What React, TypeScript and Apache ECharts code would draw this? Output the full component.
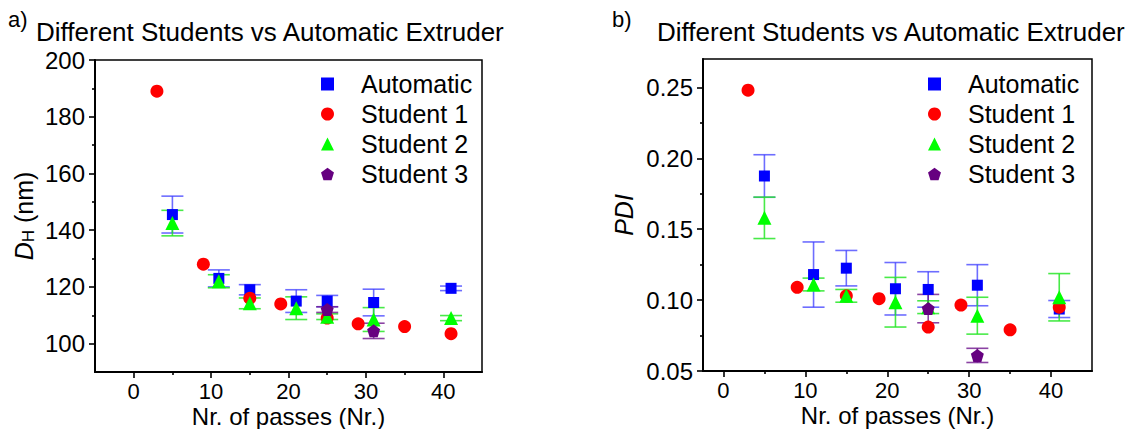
import React, { useEffect, useRef } from "react";
import * as echarts from "echarts";

// ---------- data ----------
const autoX = [5, 11, 15, 21, 25, 31, 41];
const autoDH = [145.5, 123, 119, 115, 115, 114.5, 119.5];
const autoDHErr = [6.5, 3, 1.8, 4, 2, 4.7, 0.8];
const autoPDI = [0.1875, 0.118, 0.1225, 0.108, 0.1075, 0.1105, 0.0937];
const autoPDIErr = [0.015, 0.023, 0.0125, 0.0185, 0.0125, 0.0145, 0.006];

const s1X = [3, 9, 15, 19, 25, 29, 35, 41];
const s1DH = [189, 128, 116, 114, 109, 107, 106, 103.5];
const s1PDI = [0.248, 0.109, 0.103, 0.101, 0.081, 0.0965, 0.079, 0.095];

const s2X = [5, 11, 15, 21, 25, 31, 41];
const s2DH = [142.5, 122, 114.2, 112.5, 109.5, 108.5, 109];
const s2DHErr = [4.5, 2.3, 1.9, 4, 1, 4.2, 0.9];
const s2PDI = [0.158, 0.111, 0.103, 0.0985, 0.095, 0.089, 0.102];
const s2PDIErr = [0.0146, 0.0045, 0.0045, 0.0175, 0.0045, 0.013, 0.0167];

const s3X = [25, 31];
const s3DH = [112, 104.5];
const s3DHErr = [1, 2.7];
const s3PDI = [0.094, 0.061];
const s3PDIErr = [0.01, 0.005];

const xMajor = [0, 10, 20, 30, 40];
const xMinor = [5, 15, 25, 35];
const dhMajor = [100, 120, 140, 160, 180, 200];
const dhMinor = [110, 130, 150, 170, 190];
const pdiMajor = [0.05, 0.1, 0.15, 0.2, 0.25];
const pdiMinor = [0.075, 0.125, 0.175, 0.225];

const names = ["Automatic", "Student 1", "Student 2", "Student 3"];
const titleText = "Different Students vs Automatic Extruder";
const xName = "Nr. of passes (Nr.)";

// ---------- styles ----------
const FONT = "Liberation Sans, Arial, sans-serif";
const BLUE = "#0000ff";
const RED = "#ff0000";
const GREEN = "#00ff00";
const PURPLE = "#660080";
const PENTAGON =
  "path://M0,-1 L0.951,-0.309 L0.588,0.809 L-0.588,0.809 L-0.951,-0.309 Z";

function zip(xs: number[], ys: number[], es?: number[]) {
  return xs.map((x, i) => (es ? [x, ys[i], es[i]] : [x, ys[i]]));
}

function errSeries(
  data: number[][],
  color: string,
  xi: number,
  yi: number,
  name: string
) {
  return {
    type: "custom",
    name: name + " error",
    xAxisIndex: xi,
    yAxisIndex: yi,
    data,
    encode: { x: 0, y: 1 },
    silent: true,
    renderItem: (params: any, api: any) => {
      const x = api.value(0);
      const y = api.value(1);
      const e = api.value(2);
      const top = api.coord([x, y + e]);
      const bot = api.coord([x, y - e]);
      const hw = 11;
      const style = { stroke: color, lineWidth: 1.6 };
      return {
        type: "group",
        children: [
          { type: "line", shape: { x1: top[0], y1: top[1], x2: bot[0], y2: bot[1] }, style },
          { type: "line", shape: { x1: top[0] - hw, y1: top[1], x2: top[0] + hw, y2: top[1] }, style },
          { type: "line", shape: { x1: bot[0] - hw, y1: bot[1], x2: bot[0] + hw, y2: bot[1] }, style },
        ],
      };
    },
  };
}

function scatter(
  name: string,
  data: number[][],
  color: string,
  symbol: string,
  size: number,
  xi: number,
  yi: number
) {
  return {
    type: "scatter",
    name,
    xAxisIndex: xi,
    yAxisIndex: yi,
    data,
    symbol,
    symbolSize: size,
    itemStyle: { color, opacity: 1 },
    emphasis: { disabled: true },
  };
}

function xAxes(grid: number, min: number, max: number) {
  return [
    {
      type: "value",
      gridIndex: grid,
      position: "bottom",
      min,
      max,
      name: xName,
      nameLocation: "middle",
      nameGap: 32,
      nameMoveOverlap: false,
      nameTextStyle: { fontSize: 24, color: "#000", fontFamily: FONT },
      axisLine: { show: true, onZero: false, lineStyle: { color: "#000", width: 2 } },
      axisTick: { show: true, inside: false, length: 6, customValues: xMajor, lineStyle: { color: "#000", width: 1.6 } },
      axisLabel: { show: true, customValues: xMajor, margin: 8, fontSize: 22, color: "#000", fontFamily: FONT },
      splitLine: { show: false },
    },
    {
      type: "value",
      gridIndex: grid,
      position: "bottom",
      min,
      max,
      axisLine: { show: false, onZero: false },
      axisTick: { show: true, inside: false, length: 3, customValues: xMinor, lineStyle: { color: "#000", width: 1.6 } },
      axisLabel: { show: false },
      splitLine: { show: false },
    },
  ];
}

function yAxes(
  grid: number,
  min: number,
  max: number,
  major: number[],
  minor: number[],
  name: string,
  nameGap: number,
  rich: any,
  fmt: (v: number) => string
) {
  return [
    {
      type: "value",
      gridIndex: grid,
      position: "left",
      min,
      max,
      name,
      nameLocation: "middle",
      nameRotate: 90,
      nameGap,
      nameMoveOverlap: false,
      nameTextStyle: { fontSize: 25, color: "#000", fontFamily: FONT, rich },
      axisLine: { show: true, onZero: false, lineStyle: { color: "#000", width: 2 } },
      axisTick: { show: true, inside: false, length: 6, customValues: major, lineStyle: { color: "#000", width: 1.6 } },
      axisLabel: { show: true, customValues: major, margin: 10, fontSize: 24, color: "#000", fontFamily: FONT, formatter: fmt },
      splitLine: { show: false },
    },
    {
      type: "value",
      gridIndex: grid,
      position: "left",
      min,
      max,
      axisLine: { show: false, onZero: false },
      axisTick: { show: true, inside: false, length: 3, customValues: minor, lineStyle: { color: "#000", width: 1.6 } },
      axisLabel: { show: false },
      splitLine: { show: false },
    },
  ];
}

function legend(left: number) {
  return {
    orient: "vertical",
    left,
    top: 66,
    itemWidth: 13,
    itemHeight: 13,
    itemGap: 4,
    selectedMode: false,
    data: names,
    textStyle: { fontSize: 25, color: "#000", fontFamily: FONT, padding: [0, 0, 0, 22], lineHeight: 26 },
  };
}

export default function App() {
  const ref = useRef<HTMLDivElement>(null);

  useEffect(() => {
    if (!ref.current) return;
    const chart = echarts.init(ref.current, undefined, { renderer: "svg" });

    const dhRich = {
      d: { fontStyle: "italic", fontSize: 25, lineHeight: 26, fontFamily: FONT, color: "#000" },
      s: { fontSize: 17, lineHeight: 12, verticalAlign: "bottom", fontFamily: FONT, color: "#000" },
      n: { fontSize: 25, lineHeight: 26, fontFamily: FONT, color: "#000" },
    };
    const pdiRich = {
      d: { fontStyle: "italic", fontSize: 25, lineHeight: 26, fontFamily: FONT, color: "#000" },
    };

    const gridBase = {
      show: true,
      borderColor: "#000",
      borderWidth: 1.5,
      backgroundColor: "transparent",
      containLabel: false,
      outerBoundsMode: "none",
    };

    const option: any = {
      animation: false,
      backgroundColor: "#fff",
      textStyle: { fontFamily: FONT },
      grid: [
        { ...gridBase, left: 95, top: 60, width: 387, height: 312 },
        { ...gridBase, left: 703, top: 59, width: 389, height: 312 },
      ],
      legend: [legend(316), legend(923)],
      xAxis: [...xAxes(0, -5, 45), ...xAxes(1, -2.5, 45)],
      yAxis: [
        ...yAxes(0, 90, 200, dhMajor, dhMinor, "{d|D}{s|H}{n| (nm)}", 58, dhRich, (v: number) => String(Math.round(v))),
        ...yAxes(1, 0.05, 0.27, pdiMajor, pdiMinor, "{d|PDI}", 66, pdiRich, (v: number) => v.toFixed(2)),
      ],
      series: [
        // left panel
        errSeries(zip(autoX, autoDH, autoDHErr), "rgba(60,60,255,0.75)", 0, 0, "Automatic"),
        scatter("Automatic", zip(autoX, autoDH), BLUE, "rect", 11, 0, 0),
        scatter("Student 1", zip(s1X, s1DH), RED, "circle", 13, 0, 0),
        errSeries(zip(s2X, s2DH, s2DHErr), "rgba(40,230,40,0.85)", 0, 0, "Student 2"),
        scatter("Student 2", zip(s2X, s2DH), GREEN, "triangle", 14, 0, 0),
        errSeries(zip(s3X, s3DH, s3DHErr), "rgba(110,20,140,0.8)", 0, 0, "Student 3"),
        scatter("Student 3", zip(s3X, s3DH), PURPLE, PENTAGON, 13, 0, 0),
        // right panel
        errSeries(zip(autoX, autoPDI, autoPDIErr), "rgba(60,60,255,0.75)", 2, 2, "Automatic"),
        scatter("Automatic", zip(autoX, autoPDI), BLUE, "rect", 11, 2, 2),
        scatter("Student 1", zip(s1X, s1PDI), RED, "circle", 13, 2, 2),
        errSeries(zip(s2X, s2PDI, s2PDIErr), "rgba(40,230,40,0.85)", 2, 2, "Student 2"),
        scatter("Student 2", zip(s2X, s2PDI), GREEN, "triangle", 14, 2, 2),
        errSeries(zip(s3X, s3PDI, s3PDIErr), "rgba(110,20,140,0.8)", 2, 2, "Student 3"),
        scatter("Student 3", zip(s3X, s3PDI), PURPLE, PENTAGON, 13, 2, 2),
      ],
      graphic: [
        { type: "text", left: 8, top: 8, style: { text: "a)", fontSize: 22, fill: "#000", fontFamily: FONT } },
        { type: "text", left: 36, top: 19, style: { text: titleText, fontSize: 26, fill: "#000", fontFamily: FONT } },
        { type: "text", left: 612, top: 8, style: { text: "b)", fontSize: 22, fill: "#000", fontFamily: FONT } },
        { type: "text", left: 657, top: 19, style: { text: titleText, fontSize: 26, fill: "#000", fontFamily: FONT } },
      ],
    };

    chart.setOption(option);
    return () => chart.dispose();
  }, []);

  return (
    <div
      ref={ref}
      style={{ position: "absolute", left: 0, top: 0, width: 1131, height: 429, background: "#fff" }}
    />
  );
}
